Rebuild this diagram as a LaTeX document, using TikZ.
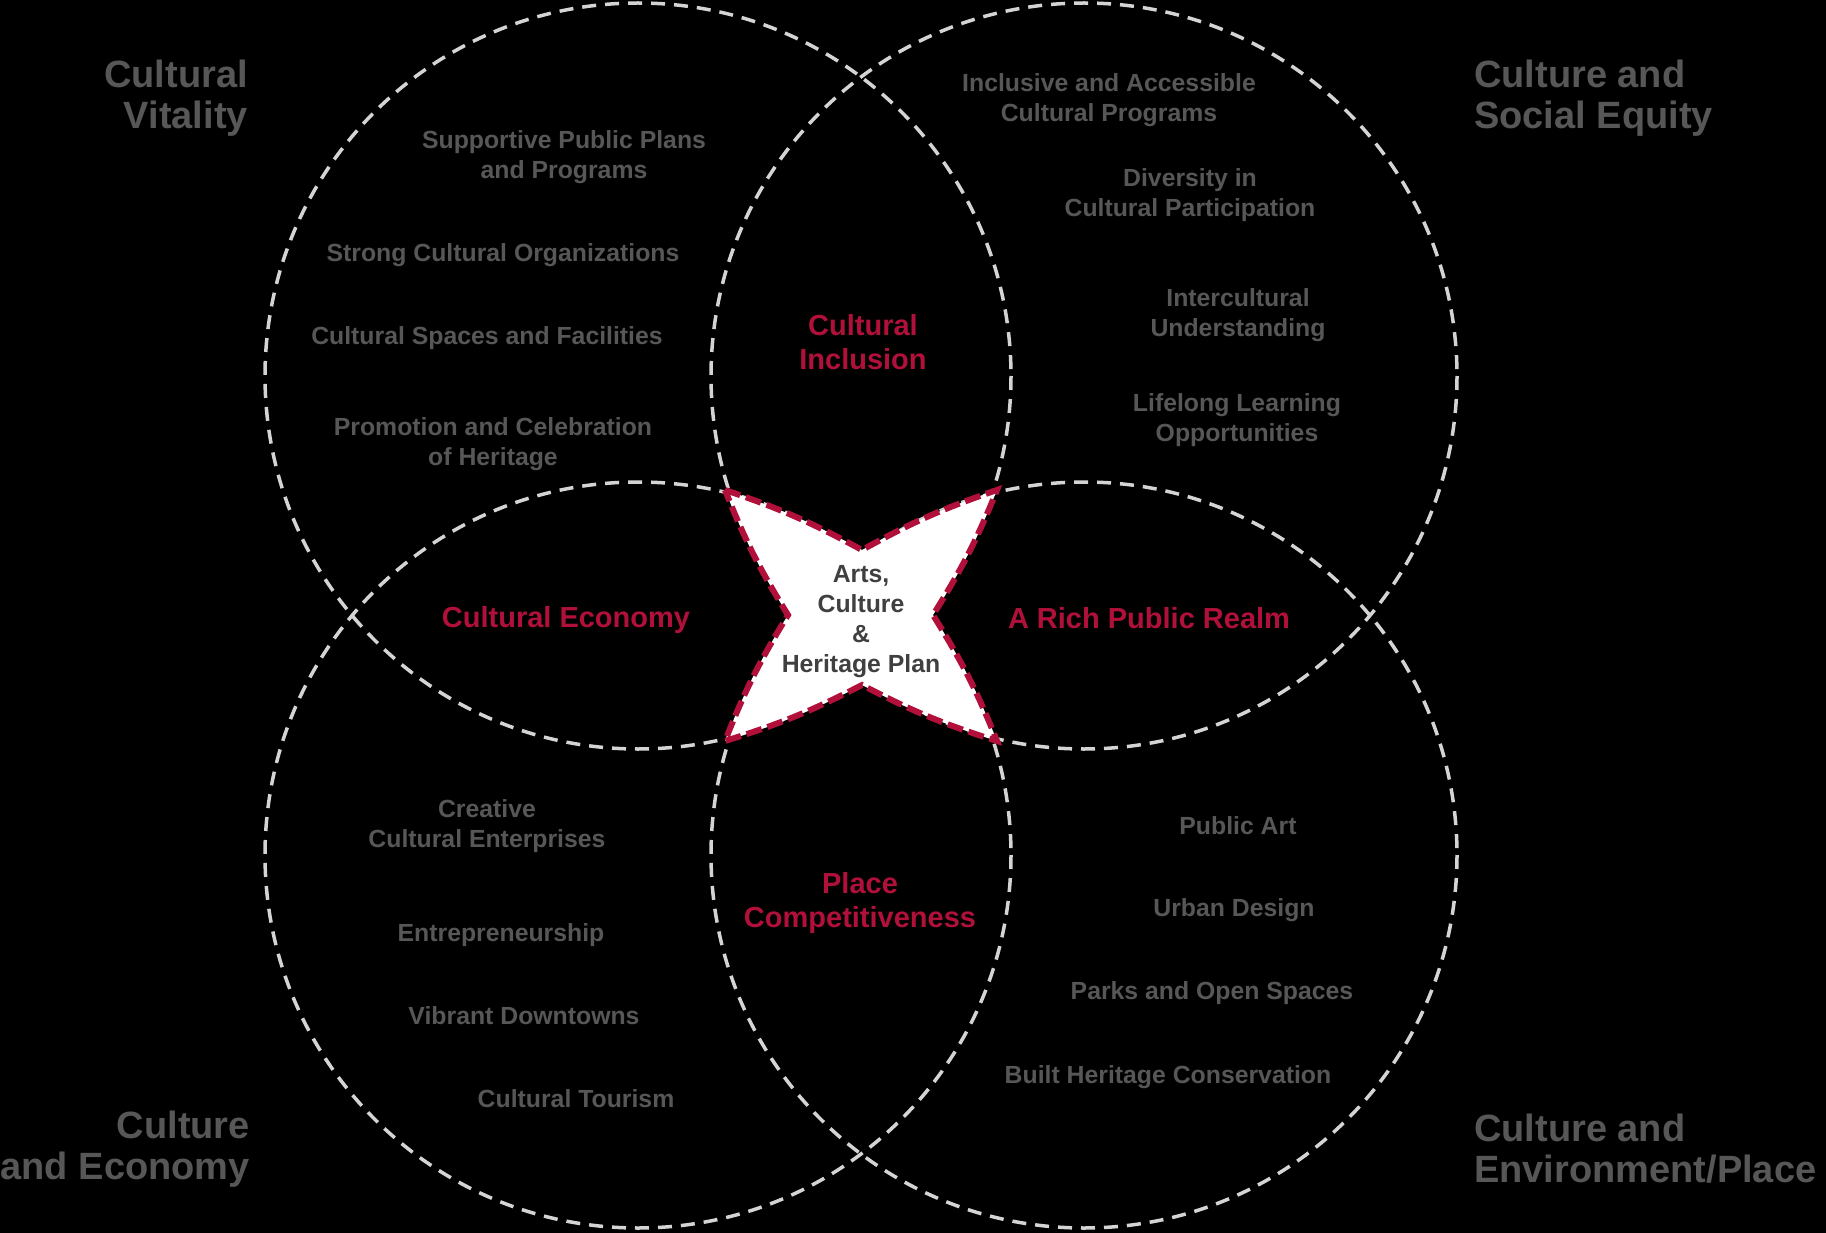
\documentclass[tikz,border=0pt]{standalone}
\usepackage{fontspec}
\setmainfont{Liberation Sans}
\usepackage{xcolor}
\usepackage{tikz}
\definecolor{vnred}{HTML}{B0103A}
\definecolor{vngray}{HTML}{575757}
\definecolor{vndark}{HTML}{404040}
\definecolor{vnline}{HTML}{D4D4D4}
\tikzset{
  ring/.style={draw=vnline, line width=3.5pt, dash pattern=on 14pt off 9pt},
  ringlabel/.style={inner sep=0pt, font=\fontsize{38}{41}\selectfont\bfseries, text=vngray},
  meetlabel/.style={inner sep=0pt, align=center, font=\fontsize{29}{34}\selectfont\bfseries, text=vnred},
  pointlabel/.style={inner sep=0pt, align=center, font=\fontsize{24.8}{30}\selectfont\bfseries, text=vngray},
  hub/.style={draw=vnred, line width=6pt, dash pattern=on 16pt off 6pt, fill=white},
}

\begin{document}
\begin{tikzpicture}[x=1pt, y=-1pt]
  \fill[black] (0,0) rectangle (1826,1233);
  \useasboundingbox (0,0) rectangle (1826,1233);

  % the four circles
  \draw[ring] (638,376) circle (373);
  \draw[ring] (1084,376) circle (373);
  \draw[ring] (638,855) circle (373);
  \draw[ring] (1084,855) circle (373);

  % star in the middle
  \coordinate (tl) at (725,490);
  \coordinate (tr) at (997,490);
  \coordinate (br) at (997,741);
  \coordinate (bl) at (725,741);
  \draw[hub] (tl) to[bend left=5] (862,550) to[bend left=5] (tr)
    to[bend left=5] (933,615) to[bend left=5] (br)
    to[bend left=5] (862,685) to[bend left=5] (bl)
    to[bend left=5] (788,615) to[bend left=5] (tl) -- cycle;
  \node[pointlabel, text=vndark] (plan) at (861,622) {Arts,\\Culture\\\&\\Heritage Plan};

  % outer labels
  \node[ringlabel, anchor=east, align=right] (vitality) at (248,98) {Cultural\\Vitality};
  \node[ringlabel, anchor=west, align=left] (equity) at (1474,98) {Culture and\\Social Equity};
  \node[ringlabel, anchor=east, align=right] (economy) at (250,1149) {Culture\\and Economy};
  \node[ringlabel, anchor=west, align=left] (place) at (1474,1149) {Culture and\\Environment/Place};

  % overlaps
  \node[meetlabel] (inclusion) at (863,342) {Cultural\\Inclusion};
  \node[meetlabel] (culteco) at (566,620) {Cultural Economy};
  \node[meetlabel] (realm) at (1149,618) {A Rich Public Realm};
  \node[meetlabel] (compet) at (860,903) {Place\\Competitiveness};

  % cultural vitality
  \node[pointlabel] (plans) at (564,157) {Supportive Public Plans\\and Programs};
  \node[pointlabel] (orgs) at (503,255) {Strong Cultural Organizations};
  \node[pointlabel] (spaces) at (487,338) {Cultural Spaces and Facilities};
  \node[pointlabel] (promo) at (493,444) {Promotion and Celebration\\of Heritage};

  % social equity
  \node[pointlabel] (access) at (1109,100) {Inclusive and Accessible\\Cultural Programs};
  \node[pointlabel] (divers) at (1190,195) {Diversity in\\Cultural Participation};
  \node[pointlabel] (inter) at (1238,315) {Intercultural\\Understanding};
  \node[pointlabel] (learn) at (1237,420) {Lifelong Learning\\Opportunities};

  % economy
  \node[pointlabel] (creative) at (487,826) {Creative\\Cultural Enterprises};
  \node[pointlabel] (entre) at (501,935) {Entrepreneurship};
  \node[pointlabel] (downtown) at (524,1016) {Vibrant Downtowns};
  \node[pointlabel] (tourism) at (576,1099) {Cultural Tourism};

  % environment / place
  \node[pointlabel] (art) at (1238,826) {Public Art};
  \node[pointlabel] (urban) at (1234,910) {Urban Design};
  \node[pointlabel] (parks) at (1212,993) {Parks and Open Spaces};
  \node[pointlabel] (built) at (1168,1077) {Built Heritage Conservation};
\end{tikzpicture}
\end{document}
